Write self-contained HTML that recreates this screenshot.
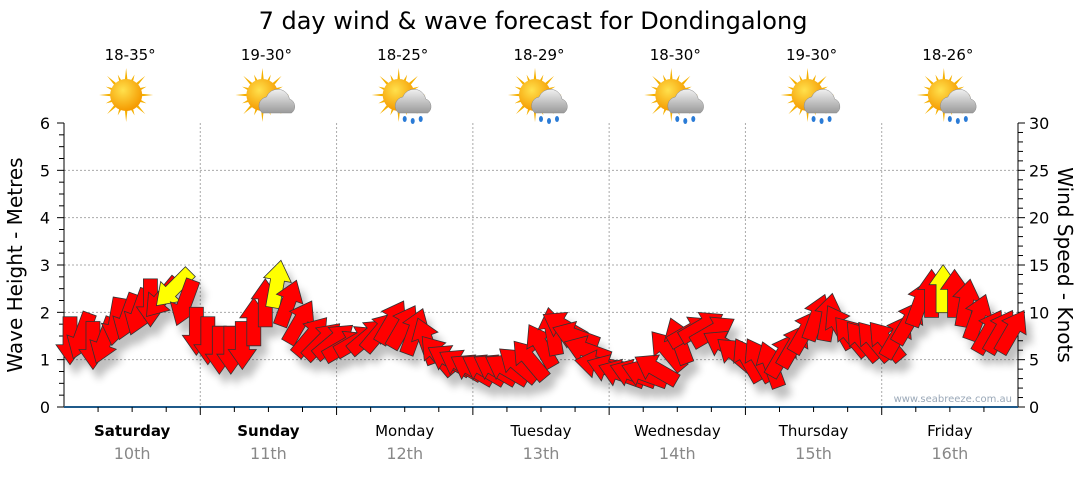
<!DOCTYPE html>
<html><head><meta charset="utf-8"><style>
body{margin:0;background:#fff;width:1080px;height:475px;overflow:hidden;font-family:"Liberation Sans","DejaVu Sans",sans-serif}
svg text{font-family:"DejaVu Sans","Liberation Sans",sans-serif}
</style></head><body>
<svg id="c" width="1080" height="475">
<defs>
<filter id="sh" x="-50%" y="-50%" width="200%" height="200%"><feGaussianBlur in="SourceAlpha" stdDeviation="4"/><feOffset dx="6" dy="10"/><feComponentTransfer><feFuncA type="linear" slope="0.25"/></feComponentTransfer><feMerge><feMergeNode/><feMergeNode in="SourceGraphic"/></feMerge></filter>
<radialGradient id="sun" cx="40%" cy="35%" r="65%"><stop offset="0" stop-color="#ffe14d"/><stop offset="1" stop-color="#f59a00"/></radialGradient>
<linearGradient id="cl" x1="0" y1="0" x2="0" y2="1"><stop offset="0" stop-color="#f0f0f0"/><stop offset="1" stop-color="#9a9a9a"/></linearGradient>
</defs>
<text x="533" y="29" font-size="24" text-anchor="middle" fill="#000">7 day wind &amp; wave forecast for Dondingalong</text>
<g id="grid"></g><g id="axes"></g><g id="icons"></g><g id="arrows" filter="url(#sh)"></g>
<text transform="translate(22,265) rotate(-90)" font-size="20" text-anchor="middle">Wave Height - Metres</text>
<text transform="translate(1058,265) rotate(90)" font-size="20" text-anchor="middle">Wind Speed - Knots</text>
<text x="1012" y="402" font-size="10" text-anchor="end" fill="#9aa8b8">www.seabreeze.com.au</text>
</svg>
<script>
const days=["Saturday","Sunday","Monday","Tuesday","Wednesday","Thursday","Friday"];
const dates=["10th","11th","12th","13th","14th","15th","16th"];
const temps=["18-35°","19-30°","18-25°","18-29°","18-30°","19-30°","18-26°"];
const weather=["sun","cloud","rain","rain","rain","rain","rain"];
const waveTicks=[0,1,2,3,4,5,6];
const windTicks=[0,5,10,15,20,25,30];
const windSpeed=[7,7.5,6.5,7,9,9.5,10,11,11.5,12.5,11,8,
7,6,6,6.5,9,11,13,11,9,7.5,7,7,
6.5,7,7.5,8,9,8.5,8,7,5.5,5,4.5,4,
4,4,4,4.5,5,6.5,8,8.5,7.5,6,4.5,4,
3.5,3.5,3.5,4,6,7,8,8.5,8,6.5,5.5,5,
5,4.5,5.5,6.5,8,9.5,9.5,8.5,7.5,7,7,7,
7.5,9,11,12,12.5,12,11,9.5,8,8,8];
const windDir=[180,200,180,200,190,200,200,180,220,225,200,180,
180,180,180,180,0,0,10,20,30,40,45,50,
60,60,50,40,30,30,20,340,320,300,300,300,
300,300,300,310,320,330,350,300,290,290,280,290,
290,290,290,300,320,340,60,60,60,300,310,330,
330,340,30,30,30,20,10,330,320,320,320,320,
30,30,20,0,0,0,10,20,30,30,30];
const NS="http://www.w3.org/2000/svg";
const X0=64,X1=1018,Y0=407,Y1=123;
const xs=t=>X0+(X1-X0)*t/7;
const yWave=v=>Y0-(Y0-Y1)*v/6;
const yWind=v=>Y0-(Y0-Y1)*v/30;
function mk(tag,at,par){const e=document.createElementNS(NS,tag);for(const k in at)e.setAttribute(k,at[k]);par.appendChild(e);return e;}
const grid=document.getElementById('grid'),axes=document.getElementById('axes'),icons=document.getElementById('icons'),ar=document.getElementById('arrows');
waveTicks.forEach(v=>{if(v>0&&v<6){const l=mk('line',{x1:X0,x2:X1,y1:yWave(v),y2:yWave(v),stroke:'#aaa','stroke-dasharray':'2,2'},grid);

}
const t=mk('text',{x:50,y:yWave(v)+6,'font-size':16,'text-anchor':'end'},axes);t.textContent=v;

});
windTicks.forEach(v=>{const t=mk('text',{x:1029,y:yWind(v)+6,'font-size':16},axes);t.textContent=v;

});
for(let i=0;i<=24;i++){const y=Y0-(Y0-Y1)*i/24;mk('line',{x1:X0-(i%4?5:7),x2:X0,y1:y,y2:y,stroke:'#000'},axes);}
for(let i=0;i<=30;i++){const y=yWind(i);mk('line',{x1:X1,x2:X1+(i%5?5:7),y1:y,y2:y,stroke:'#000'},axes);}
for(let d=1;d<7;d++){const l=mk('line',{x1:xs(d),x2:xs(d),y1:Y1,y2:Y0,stroke:'#aaa','stroke-dasharray':'2,2'},grid);

}
mk('line',{x1:X0,x2:X0,y1:Y1,y2:Y0,stroke:'#000'},axes);
mk('line',{x1:X1,x2:X1,y1:Y1,y2:Y0,stroke:'#000'},axes);
mk('line',{x1:X0,x2:X1,y1:Y0,y2:Y0,stroke:'#1f5a8a','stroke-width':2},axes);
for(let i=1;i<28;i++){const x=xs(i/4);mk('line',{x1:x,x2:x,y1:Y0,y2:Y0+(i%4?5:8),stroke:'#000'},axes);}
days.forEach((d,i)=>{const cx=xs(i+0.5);
const a=mk('text',{x:cx,y:436,'font-size':15,'text-anchor':'middle','font-weight':i<2?'bold':'normal'},axes);a.textContent=d;


const b=mk('text',{x:cx,y:459,'font-size':16,'text-anchor':'middle',fill:'#888'},axes);b.textContent=dates[i];


const t=mk('text',{x:cx-2,y:60,'font-size':15,'text-anchor':'middle'},icons);t.textContent=temps[i];


const g=mk('g',{transform:`translate(${cx-6},95)`},icons);


for(let k=0;k<16;k++){const an=k*Math.PI/8,r=k%2?22:27;mk('polygon',{points:`${Math.cos(an-0.12)*13},${Math.sin(an-0.12)*13} ${Math.cos(an)*r},${Math.sin(an)*r} ${Math.cos(an+0.12)*13},${Math.sin(an+0.12)*13}`,fill:'#f5b000'},g);}
mk('circle',{r:16,fill:'url(#sun)'},g);
if(weather[i]!=='sun'){mk('path',{d:'M0,18 a9,9 0 0 1 4,-16 a12,12 0 0 1 23,2 a8,8 0 0 1 2,14 z',fill:'url(#cl)',stroke:'#888','stroke-width':0.5},g);}
if(weather[i]==='rain'){[[6,24],[14,26],[22,24]].forEach(p=>mk('ellipse',{cx:p[0],cy:p[1],rx:2,ry:3,fill:'#2a7bd6'},g));}
});
const n=windSpeed.length;
windSpeed.forEach((v,i)=>{const x=X0+6+(X1-X0-12)*i/(n-1),y=yWind(v);
const p=mk('polygon',{points:'-7,24 -7,-4 -14,-4 0,-24 14,-4 7,-4 7,24',transform:`translate(${x},${y}) rotate(${windDir[i]})`,fill:v>=12.3?'#ffff00':'#ff0000',stroke:'#333','stroke-width':0.8},ar);

});
</script>
</body></html>
